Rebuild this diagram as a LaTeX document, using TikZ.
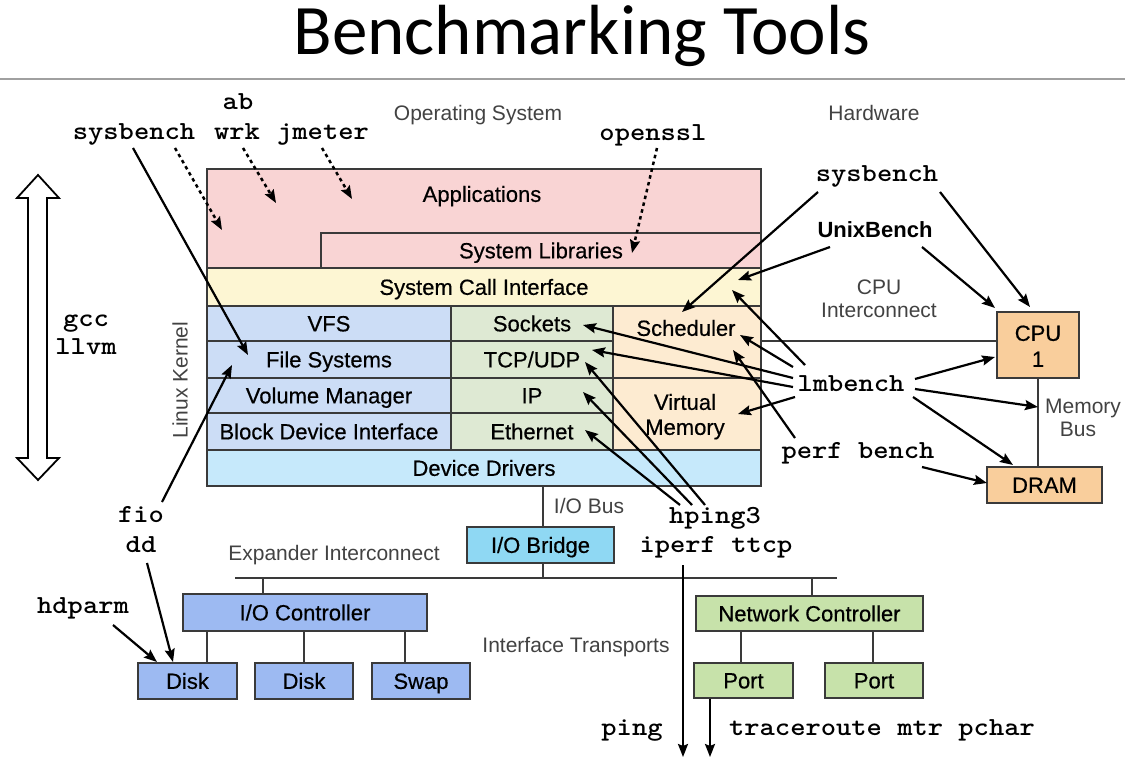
\documentclass[tikz,border=0pt]{standalone}
\usepackage{fontspec}
\setmainfont{Liberation Sans}
\newfontfamily\titlefont{Carlito}
\newfontfamily\boxf{Liberation Sans}[FakeBold=0.5]
\usetikzlibrary{arrows.meta,calc}
\definecolor{bordc}{HTML}{3A3A3A}
\definecolor{appc}{HTML}{F9D4D4}
\definecolor{scic}{HTML}{FDF6D3}
\definecolor{fsc}{HTML}{CCDDF6}
\definecolor{netc}{HTML}{DEE9D3}
\definecolor{cpuk}{HTML}{FDEBD1}
\definecolor{ddc}{HTML}{C6E9FB}
\definecolor{hwc}{HTML}{F9CE9C}
\definecolor{iobc}{HTML}{8FD8F3}
\definecolor{iocc}{HTML}{9DBAF2}
\definecolor{nicc}{HTML}{C7E2AA}
\definecolor{grayt}{HTML}{424242}
\definecolor{rulec}{HTML}{A0A0A0}
\newcommand\mt[1]{\scalebox{1.12}[1]{#1}}
\begin{document}
\begin{tikzpicture}[x=1pt,y=-1pt,
  box/.style={draw=bordc, line width=1.4pt, inner sep=0pt, font=\boxf\fontsize{22}{26}\selectfont, text height=15.7pt, text depth=0pt},
  txt/.style={inner sep=0pt, font=\boxf\fontsize{22}{26}\selectfont, text height=15.7pt, text depth=0pt},
  glabel/.style={inner sep=0pt, text=grayt, font=\fontsize{21}{25}\selectfont, text height=15pt, text depth=0pt},
  mono/.style={inner sep=0pt, anchor=base, font=\fontsize{26}{28}\selectfont\ttfamily\bfseries},
  conn/.style={draw=bordc, line width=1.4pt},
  arr/.style={line width=2.2pt, -{Stealth[length=13pt, width=10pt, inset=2pt]}},
  dotarr/.style={arr, dash pattern=on 3.5pt off 3.5pt, line width=2.5pt}
]
\useasboundingbox (0,0) rectangle (1125,762);
% title
\node[inner sep=0pt, anchor=base, font=\titlefont\fontsize{71}{73}\selectfont] (title) at (582,55) {Benchmarking Tools};
\draw[rulec, line width=2.5pt] (0,79) -- (1125,79);

% group labels
\node[glabel] (os) at (478,113) {Operating System};
\node[glabel] (hw) at (874,113) {Hardware};
\node[glabel] (cpuic1) at (879,287) {CPU};
\node[glabel] (cpuic2) at (879,310) {Interconnect};
\node[glabel] (mb1) at (1083,406) {Memory};
\node[glabel] (mb2) at (1078,429) {Bus};
\node[glabel] (expi) at (334,553) {Expander Interconnect};
\node[glabel] (iobus) at (589,506) {I/O Bus};
\node[glabel] (itr) at (576,645) {Interface Transports};
\node[glabel, rotate=90] (lk) at (180,380) {Linux Kernel};

% OS stack
\node[box, fill=appc, minimum width=554pt, minimum height=99pt] (apps) at (484,218.5) {};
\node[txt] (appsT) at (482,194) {Applications};
\node[box, fill=appc, minimum width=440pt, minimum height=35pt] (syslib) at (541,250.5) {System Libraries};
\node[box, fill=scic, minimum width=554pt, minimum height=38pt] (sci) at (484,287) {System Call Interface};
\node[box, fill=fsc, minimum width=244pt, minimum height=35pt] (vfs) at (329,323.5) {VFS};
\node[box, fill=fsc, minimum width=244pt, minimum height=37pt] (fs) at (329,359.5) {File Systems};
\node[box, fill=fsc, minimum width=244pt, minimum height=35pt] (vm) at (329,395.5) {Volume Manager};
\node[box, fill=fsc, minimum width=244pt, minimum height=37pt] (bdi) at (329,431.5) {Block Device Interface};
\node[box, fill=netc, minimum width=162pt, minimum height=35pt] (sock) at (532,323.5) {Sockets};
\node[box, fill=netc, minimum width=162pt, minimum height=37pt] (tcp) at (532,359.5) {TCP/UDP};
\node[box, fill=netc, minimum width=162pt, minimum height=35pt] (ip) at (532,395.5) {IP};
\node[box, fill=netc, minimum width=162pt, minimum height=37pt] (eth) at (532,431.5) {Ethernet};
\node[box, fill=cpuk, minimum width=148pt, minimum height=72pt] (sched) at (687,342) {};
\node[txt] (schedT) at (686,328) {Scheduler};
\node[box, fill=cpuk, minimum width=148pt, minimum height=72pt] (virt) at (687,414) {};
\node[txt] (virtT1) at (685,402) {Virtual};
\node[txt] (virtT2) at (685,427) {Memory};
\node[box, fill=ddc, minimum width=554pt, minimum height=36pt] (dd) at (484,468) {Device Drivers};

% hardware
\node[box, fill=hwc, minimum width=82pt, minimum height=66pt] (cpu) at (1038,345) {};
\node[txt] (cpuT1) at (1038,333) {CPU};
\node[txt] (cpuT2) at (1038,359) {1};
\node[box, fill=hwc, minimum width=115pt, minimum height=36pt] (dram) at (1044.5,485) {DRAM};
\node[box, fill=iobc, minimum width=147pt, minimum height=36pt] (iob) at (540.5,545) {I/O Bridge};
\node[box, fill=iocc, minimum width=244pt, minimum height=37pt] (ioc) at (305,612.5) {I/O Controller};
\node[box, fill=iocc, minimum width=99pt, minimum height=36pt] (disk1) at (187.5,681) {Disk};
\node[box, fill=iocc, minimum width=98pt, minimum height=36pt] (disk2) at (304,681) {Disk};
\node[box, fill=iocc, minimum width=98pt, minimum height=36pt] (swap) at (421,681) {Swap};
\node[box, fill=nicc, minimum width=227pt, minimum height=35pt] (nic) at (809.5,613.5) {Network Controller};
\node[box, fill=nicc, minimum width=99pt, minimum height=35pt] (port1) at (743.5,680.5) {Port};
\node[box, fill=nicc, minimum width=98pt, minimum height=35pt] (port2) at (874,680.5) {Port};

% buses
\coordinate (busL) at (235,578);
\coordinate (busR) at (837,578);
\draw[conn] (busL) -- (busR);
\draw[conn] ([xshift=2.5pt]iob.north) -- ([xshift=2.5pt]iob.north |- dd.south);
\draw[conn] ([xshift=2.5pt]iob.south) -- ([xshift=2.5pt]iob.south |- busL);
\draw[conn] ([xshift=-42pt]ioc.north) -- ([xshift=-42pt]ioc.north |- busL);
\draw[conn] ([xshift=19.5pt]disk1.north) -- ([xshift=19.5pt]disk1.north |- ioc.south);
\draw[conn] (disk2.north) -- (disk2.north |- ioc.south);
\draw[conn] ([xshift=-16pt]swap.north) -- ([xshift=-16pt]swap.north |- ioc.south);
\draw[conn] ([xshift=2.5pt]nic.north) -- ([xshift=2.5pt]nic.north |- busR);
\draw[conn] ([xshift=-2.5pt]port1.north) -- ([xshift=-2.5pt]port1.north |- nic.south);
\draw[conn] ([xshift=-1pt]port2.north) -- ([xshift=-1pt]port2.north |- nic.south);
\draw[conn] ([yshift=4pt]cpu.west) -- ([yshift=4pt]cpu.west -| sched.east);
\draw[conn] (cpu.south) -- (cpu.south |- dram.north);

% compiler double arrow
\draw[line width=1.8pt, fill=white, line join=miter] (38,175) -- (59,198) -- (47,198) -- (47,458) -- (59,458) -- (38,480) -- (17,458) -- (28,458) -- (28,198) -- (17,198) -- cycle;

% tool labels
\node[mono] (ab) at (238,110) {\mt{ab}};
\node[mono] (sysL) at (134,140) {\mt{sysbench}};
\node[mono] (wrk) at (237,140) {\mt{wrk}};
\node[mono] (jm) at (323,140) {\mt{jmeter}};
\node[mono] (ossl) at (653,141) {\mt{openssl}};
\node[mono] (gcc) at (86,326) {\mt{gcc}};
\node[mono] (llvm) at (86,354) {\mt{llvm}};
\node[mono] (sysR) at (877,182) {\mt{sysbench}};
\node[inner sep=0pt, anchor=base, font=\fontsize{22}{26}\selectfont\bfseries] (ub) at (875,238) {UnixBench};
\node[mono] (lmb) at (851,391) {\mt{lmbench}};
\node[mono] (perf) at (858,458) {\mt{perf bench}};
\node[mono] (hping) at (715,523) {\mt{hping3}};
\node[mono] (iperf) at (716,552) {\mt{iperf ttcp}};
\node[mono] (fio) at (141,522) {\mt{fio}};
\node[mono] (ddt) at (141,552) {\mt{dd}};
\node[mono] (hdp) at (83,613) {\mt{hdparm}};
\node[mono] (ping) at (632,735) {\mt{ping}};
\node[mono] (trace) at (882,735) {\mt{traceroute mtr pchar}};

% arrow endpoints
\coordinate (sysLa) at (133,148);
\coordinate (sysLb) at (175,148);
\coordinate (wrka) at (243,148);
\coordinate (jma) at (322,148);
\coordinate (ossla) at (657,148);
\coordinate (tFS1) at (248,355);
\coordinate (tApp1) at (222,230);
\coordinate (tApp2) at (276,203);
\coordinate (tApp3) at (352,199);
\coordinate (tLib) at (632,253);
\coordinate (sysRa) at (818,192);
\coordinate (sysRb) at (940,192);
\coordinate (tSch1) at (682,312);
\coordinate (tCpu1) at (1030,307);
\coordinate (uba) at (830,247);
\coordinate (ubb) at (922,247);
\coordinate (tSci1) at (738,280);
\coordinate (tCpu2) at (995,308);
\coordinate (lmA) at (805,365);
\coordinate (lmB) at (793,367);
\coordinate (lmC) at (793,378);
\coordinate (lmD) at (793,387);
\coordinate (lmE) at (795,397);
\coordinate (lmF) at (915,379);
\coordinate (lmG) at (915,389);
\coordinate (lmH) at (913,397);
\coordinate (tSci2) at (732,290);
\coordinate (tSch2) at (740,335);
\coordinate (tSock) at (583,325);
\coordinate (tTcp1) at (592,350);
\coordinate (tVirt) at (738,414);
\coordinate (tCpu3) at (995,357);
\coordinate (tMb) at (1038,407);
\coordinate (tDram1) at (1013,465);
\coordinate (pfA) at (795,438);
\coordinate (pfB) at (922,467);
\coordinate (tSch3) at (733,350);
\coordinate (tDram2) at (987,483);
\coordinate (hpA) at (705,505);
\coordinate (hpB) at (692,505);
\coordinate (hpC) at (680,505);
\coordinate (tTcp2) at (585,362);
\coordinate (tIp) at (583,392);
\coordinate (tEth) at (585,430);
\coordinate (fioa) at (162,502);
\coordinate (tFS2) at (232,365);
\coordinate (dda) at (147,563);
\coordinate (tDisk1) at (173,662);
\coordinate (hdpa) at (113,625);
\coordinate (tDisk2) at (157,662);
\coordinate (pinga) at (683,565);
\coordinate (tPing) at (683,757);
\coordinate (tTrace) at (710,757);

% arrows
\draw[arr] (sysLa) -- (tFS1);
\draw[dotarr] (sysLb) -- (tApp1);
\draw[dotarr] (wrka) -- (tApp2);
\draw[dotarr] (jma) -- (tApp3);
\draw[dotarr] (ossla) -- (tLib);
\draw[arr] (sysRa) -- (tSch1);
\draw[arr] (sysRb) -- (tCpu1);
\draw[arr] (uba) -- (tSci1);
\draw[arr] (ubb) -- (tCpu2);
\draw[arr] (lmA) -- (tSci2);
\draw[arr] (lmB) -- (tSch2);
\draw[arr] (lmC) -- (tSock);
\draw[arr] (lmD) -- (tTcp1);
\draw[arr] (lmE) -- (tVirt);
\draw[arr] (lmF) -- (tCpu3);
\draw[arr] (lmG) -- (tMb);
\draw[arr] (lmH) -- (tDram1);
\draw[arr] (pfA) -- (tSch3);
\draw[arr] (pfB) -- (tDram2);
\draw[arr] (hpA) -- (tTcp2);
\draw[arr] (hpB) -- (tIp);
\draw[arr] (hpC) -- (tEth);
\draw[arr] (fioa) -- (tFS2);
\draw[arr] (dda) -- (tDisk1);
\draw[arr] (hdpa) -- (tDisk2);
\draw[arr] (pinga) -- (tPing);
\draw[arr] (port1.south -| tTrace) -- (tTrace);
\end{tikzpicture}
\end{document}
